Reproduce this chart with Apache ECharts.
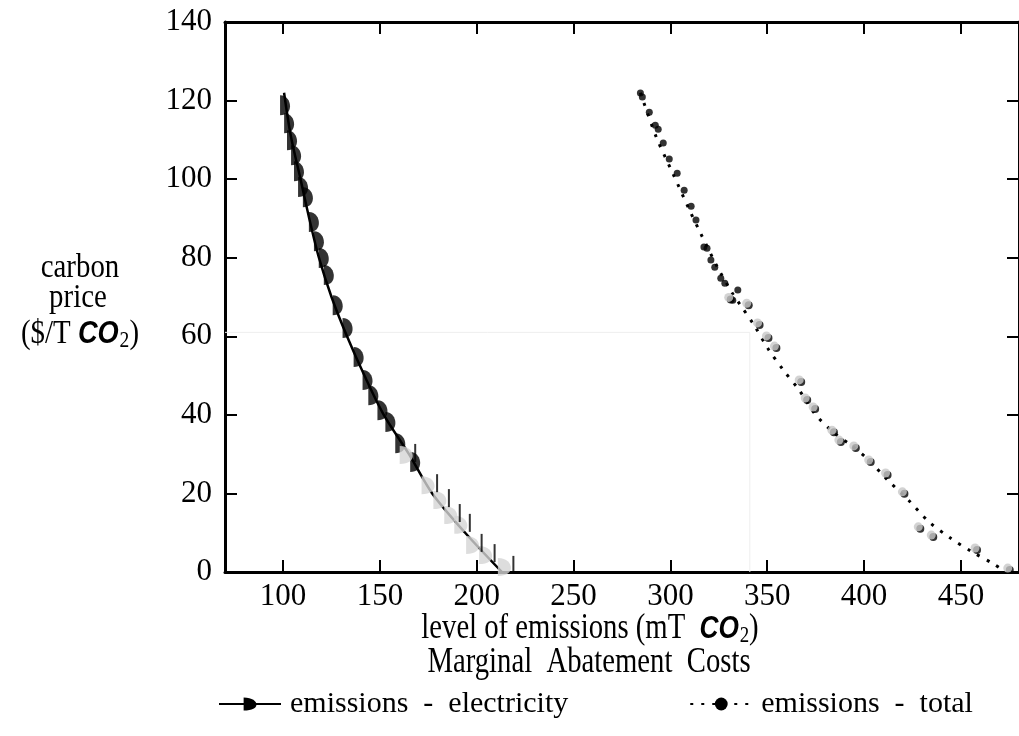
<!DOCTYPE html>
<html style="height: 100%">
<head>
    <meta charset="utf-8">
</head>
<body style="height: 100%; margin: 0; background: #fff">
    <div id="container" style="width: 1019px; height: 736px"></div>
    <script type="text/javascript" src="https://cdn.jsdelivr.net/npm/echarts@6/dist/echarts.min.js"></script>
    <script type="text/javascript">
        // tick values
        var xTicks = [100, 150, 200, 250, 300, 350, 400, 450];

        // electricity: fitted curve + the glyph marks next to it
        var elecLine = [[100.5, 122], [104, 111], [109, 100], [113.5, 90], [118.5, 80], [125, 70], [133, 60],
            [142, 50], [152, 40], [165, 30], [177, 20], [194, 10], [213, 0]];
        var elecBlackMarks = [[101.0, 118.8], [103.1, 114.2], [104.6, 109.9], [106.7, 106.1], [108.2, 102.0],
            [110.3, 98.0], [112.8, 95.4], [115.9, 89.1], [118.5, 84.2], [121.0, 79.9], [123.6, 75.6],
            [128.2, 67.9], [133.3, 62.1], [139.0, 54.7], [143.6, 48.9], [146.6, 45.0], [151.3, 41.2],
            [155.4, 38.2], [160.5, 32.8], [168.2, 28.0]];
        var elecGrayMarks = [[164.6, 29.8], [175.9, 22.1], [182.0, 18.3], [187.6, 14.5], [192.8, 12.0],
            [198.9, 6.9], [205.6, 4.3], [215.3, 1.3]];

        // total: dotted curve + dots
        var totalLine = [[284.5, 122], [292.7, 110.7], [301.4, 101.3], [309.6, 92.4], [315.8, 86.0],
            [324.5, 77.4], [331.7, 71.2], [335.8, 68.2], [343.5, 62.6], [350.6, 56.7], [358.3, 51.4],
            [366.5, 46.3], [374.7, 40.2], [384.5, 35.4], [393.2, 32.3], [402.4, 28.5], [411.6, 23.7],
            [422.9, 18.3], [433.7, 12.7], [444.4, 8.7], [455.2, 5.3], [467.0, 2.0], [473.1, 0]];
        var totalBlackMarks = [[284.5, 121.9], [285.5, 120.9], [289.1, 117.0], [292.2, 113.7], [293.7, 112.7],
            [296.3, 109.2], [299.4, 105.1], [303.5, 101.5], [307.1, 97.2], [310.7, 93.1], [313.2, 89.6],
            [317.3, 82.7], [318.9, 82.4], [320.9, 79.4], [322.9, 77.6], [326.0, 74.8], [328.1, 73.5],
            [334.8, 71.8], [332.2, 69.2]];
        var totalGrayMarks = [[330.1, 69.9], [339.4, 68.4], [345.0, 63.4], [349.6, 60.1], [353.7, 57.5],
            [366.5, 48.9], [369.6, 44.3], [373.7, 42.0], [383.4, 36.1], [387.0, 33.6], [394.7, 32.1],
            [402.4, 28.5], [411.1, 25.2], [419.8, 20.4], [428.0, 11.5], [434.7, 9.4], [457.3, 6.1],
            [474.2, 1.0]];

        // faint guide
        var guideLine = [[70, 61], [341, 61], [341, 0]];

        var serif = 'Liberation Serif';
        var glyph = 'path://M0,0 C7,0 10,6 10,11 C10,16 7,20 0,20 Z';

        var dom = document.getElementById("container");
        var myChart = echarts.init(dom);

        var coRich = {
            co: { fontFamily: 'Liberation Sans', fontStyle: 'italic', fontWeight: 'bold', fontSize: 32, fill: '#000' },
            sub: { fontFamily: serif, fontSize: 23, fill: '#000', padding: [13, 0, 0, 1] }
        };

        var option = {
            backgroundColor: '#fff',
            animation: false,
            grid: { left: 225, top: 22, right: -6, bottom: 164 },
            legend: {
                data: ['emissions - electricity', 'emissions - total'],
                formatter: function (name) {
                    return name.replace(' - ', '  -  ');
                },
                left: 213,
                top: 684,
                itemWidth: 62,
                itemHeight: 16,
                itemGap: 121,
                textStyle: { fontFamily: serif, fontSize: 30, color: '#000', padding: [0, 0, 0, 4] }
            },
            graphic: [
                {
                    type: 'text', x: 590, y: 629, scaleX: 0.82,
                    style: {
                        text: 'level of emissions (mT  {co|CO}{sub|2})',
                        fontFamily: serif, fontSize: 35, fill: '#000',
                        align: 'center', verticalAlign: 'middle', rich: coRich
                    }
                },
                {
                    type: 'text', x: 589, y: 663, scaleX: 0.82,
                    style: {
                        text: 'Marginal  Abatement  Costs',
                        fontFamily: serif, fontSize: 35, fill: '#000',
                        align: 'center', verticalAlign: 'middle'
                    }
                },
                {
                    type: 'text', x: 80, y: 268, scaleX: 0.85,
                    style: { text: 'carbon', fontFamily: serif, fontSize: 34, fill: '#000', align: 'center', verticalAlign: 'middle' }
                },
                {
                    type: 'text', x: 78, y: 298, scaleX: 0.85,
                    style: { text: 'price', fontFamily: serif, fontSize: 34, fill: '#000', align: 'center', verticalAlign: 'middle' }
                },
                {
                    type: 'text', x: 80, y: 334, scaleX: 0.85,
                    style: {
                        text: '($/T {co|CO}{sub|2})', fontFamily: serif, fontSize: 34, fill: '#000',
                        align: 'center', verticalAlign: 'middle', rich: coRich
                    }
                }
            ],
            xAxis: [{
                type: 'value',
                min: 70,
                max: 480,
                position: 'bottom',
                splitLine: { show: false },
                axisLine: { onZero: false, lineStyle: { color: '#000', width: 3 } },
                axisTick: { inside: true, length: 12, customValues: xTicks, lineStyle: { color: '#000', width: 2 } },
                axisLabel: { customValues: xTicks, margin: 9, fontFamily: serif, fontSize: 31, color: '#000' }
            }, {
                type: 'value',
                min: 70,
                max: 480,
                position: 'top',
                splitLine: { show: false },
                axisLine: { onZero: false, lineStyle: { color: '#000', width: 3 } },
                axisTick: { inside: true, length: 12, customValues: xTicks, lineStyle: { color: '#000', width: 2 } },
                axisLabel: { show: false }
            }],
            yAxis: [{
                type: 'value',
                min: 0,
                max: 140,
                interval: 20,
                position: 'left',
                splitLine: { show: false },
                axisLine: { show: true, onZero: false, lineStyle: { color: '#000', width: 3 } },
                axisTick: { inside: true, length: 12, lineStyle: { color: '#000', width: 2 } },
                axisLabel: { margin: 13, fontFamily: serif, fontSize: 31, color: '#000' }
            }, {
                type: 'value',
                min: 0,
                max: 140,
                interval: 20,
                position: 'right',
                splitLine: { show: false },
                axisLine: { show: true, onZero: false, lineStyle: { color: '#000', width: 3 } },
                axisTick: { inside: true, length: 12, lineStyle: { color: '#000', width: 2 } },
                axisLabel: { show: false }
            }],
            series: [
                {
                    name: 'guide',
                    type: 'line',
                    data: guideLine,
                    silent: true,
                    showSymbol: false,
                    lineStyle: { color: '#eeeeee', width: 1 },
                    z: 1
                },
                {
                    name: 'emissions - electricity',
                    type: 'line',
                    data: elecLine,
                    smooth: 0.3,
                    showSymbol: false,
                    symbol: glyph,
                    symbolSize: [9, 18],
                    itemStyle: { color: '#000' },
                    lineStyle: { color: '#000', width: 2.5 },
                    z: 3
                },
                {
                    name: 'elec marks',
                    type: 'scatter',
                    data: elecBlackMarks,
                    symbol: glyph,
                    symbolSize: [10, 20],
                    itemStyle: { color: '#000' },
                    z: 4
                },
                {
                    name: 'elec gray',
                    type: 'scatter',
                    data: elecGrayMarks,
                    symbol: glyph,
                    symbolSize: [13, 18],
                    symbolOffset: [-2, 0],
                    itemStyle: { color: '#d4d4d4' },
                    z: 4
                },
                {
                    name: 'elec gray stroke',
                    type: 'scatter',
                    data: elecGrayMarks,
                    symbol: 'rect',
                    symbolSize: [2, 18],
                    symbolOffset: [7, -2],
                    itemStyle: { color: '#000' },
                    z: 5
                },
                {
                    name: 'emissions - total',
                    type: 'line',
                    data: totalLine,
                    smooth: 0.3,
                    showSymbol: false,
                    symbol: 'circle',
                    symbolSize: 6,
                    itemStyle: { color: '#000' },
                    lineStyle: { color: '#000', width: 3, type: [3, 8], cap: 'butt' },
                    z: 3
                },
                {
                    name: 'total marks',
                    type: 'scatter',
                    data: totalBlackMarks,
                    symbol: 'circle',
                    symbolSize: 7,
                    itemStyle: { color: '#000' },
                    z: 4
                },
                {
                    name: 'total gray shadow',
                    type: 'scatter',
                    data: totalGrayMarks,
                    symbol: 'circle',
                    symbolSize: 8,
                    symbolOffset: [2, 2],
                    itemStyle: { color: '#000' },
                    z: 4
                },
                {
                    name: 'total gray',
                    type: 'scatter',
                    data: totalGrayMarks,
                    symbol: 'circle',
                    symbolSize: 9,
                    itemStyle: { color: '#c8c8c8' },
                    z: 5
                }
            ]
        };

        myChart.setOption(option);
    </script>
</body>
</html>
